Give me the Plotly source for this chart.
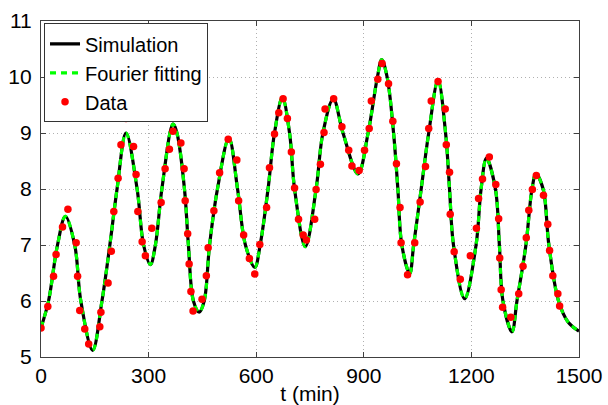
import plotly.graph_objects as go

# Simulation / Fourier fit curve (extrema and grid crossings)
sim_t = [0, 21, 46, 68, 94, 111, 144, 170, 192, 212, 237, 268, 286, 305, 319, 337,
         368, 379, 400, 411, 425, 441, 455, 470, 492, 524, 548, 570, 596, 611, 633,
         651, 673, 693, 707, 737, 767, 786, 815, 842, 884, 912, 938, 950, 965, 983,
         995, 1006, 1028, 1039, 1060, 1081, 1107, 1128, 1139, 1150, 1181, 1213, 1227,
         1242, 1267, 1278, 1288, 1313, 1327, 1352, 1369, 1380, 1400, 1416, 1443, 1470, 1500]
sim_y = [5.52, 6.0, 7.0, 7.51, 7.0, 6.0, 5.12, 6.0, 7.0, 8.0, 9.0, 8.0, 7.0, 6.65, 7.0, 8.0,
         9.16, 9.0, 8.0, 7.0, 6.0, 5.80, 6.0, 7.0, 8.0, 8.91, 8.0, 7.0, 6.60, 7.0, 8.0,
         9.0, 9.63, 9.0, 8.0, 6.97, 8.0, 9.0, 9.61, 9.0, 8.27, 9.0, 10.0, 10.31, 10.0, 9.0,
         8.0, 7.0, 6.49, 7.0, 8.0, 9.0, 9.94, 9.0, 8.0, 7.0, 6.04, 7.0, 8.0,
         8.55, 8.0, 7.0, 6.0, 5.45, 6.0, 7.0, 8.0, 8.27, 8.0, 7.0, 6.0, 5.62, 5.46]

fit_t = sim_t
fit_y = sim_y

data_t = [0, 19, 35, 42, 60, 75, 98, 102, 108, 122, 133, 164, 167, 187, 196, 203, 215, 223,
          237, 258, 265, 270, 282, 291, 309, 335, 346, 358, 368, 390, 399, 402, 409, 413,
          418, 424, 449, 461, 466, 482, 498, 522, 546, 551, 565, 581, 596, 610, 629, 637,
          651, 663, 675, 687, 698, 707, 718, 731, 740, 763, 767, 779, 789, 792, 816, 839,
          858, 867, 887, 902, 915, 921, 939, 951, 969, 981, 991, 1001, 1004, 1022, 1042,
          1057, 1072, 1081, 1088, 1107, 1127, 1130, 1139, 1141, 1152, 1169, 1197, 1214,
          1220, 1231, 1250, 1268, 1276, 1279, 1283, 1287, 1310, 1332, 1344, 1353, 1360,
          1370, 1381, 1401, 1413, 1418, 1427, 1441, 1446]
data_y = [5.52, 5.90, 6.44, 6.83, 7.32, 7.64, 7.04, 6.44, 5.83, 5.50, 5.23, 5.54, 5.80, 6.32,
          6.89, 7.60, 8.19, 8.79, 9.26, 8.76, 8.26, 7.60, 7.06, 6.81, 7.30, 7.76, 8.36, 8.71,
          9.03, 8.82, 8.36, 7.79, 7.20, 6.66, 6.17, 5.82, 6.03, 6.45, 6.95, 7.61, 8.29, 8.89,
          8.52, 7.79, 7.18, 6.76, 6.48, 7.01, 7.67, 8.38, 8.98, 9.36, 9.61, 9.26, 8.66, 8.02,
          7.46, 7.18, 7.09, 7.46, 7.99, 8.44, 9.01, 9.43, 9.61, 9.11, 8.69, 8.41, 8.33, 8.69,
          9.08, 9.57, 9.96, 10.24, 9.88, 9.21, 8.45, 7.67, 7.04, 6.47, 7.04, 7.77, 8.40, 9.08,
          9.57, 9.92, 9.43, 8.79, 8.30, 7.55, 6.88, 6.39, 6.81, 7.30, 7.83, 8.18, 8.57, 8.08,
          7.47, 6.77, 6.20, 5.89, 5.71, 6.13, 6.62, 7.13, 7.62, 7.99, 8.24, 7.89, 7.37, 6.90,
          6.45, 6.13, 5.91]

x_ticks = [0, 300, 600, 900, 1200, 1500]
y_ticks = [5, 6, 7, 8, 9, 10, 11]

FONT = "Liberation Sans, Arial, Helvetica, sans-serif"

fig = go.Figure()
fig.add_trace(go.Scatter(x=sim_t, y=sim_y, mode="lines", name="Simulation",
                         line=dict(color="black", width=3.2, shape="spline")))
fig.add_trace(go.Scatter(x=fit_t, y=fit_y, mode="lines", name="Fourier fitting",
                         line=dict(color="#00ff00", width=3.2, shape="spline", dash="6px,5px")))
fig.add_trace(go.Scatter(x=data_t, y=data_y, mode="markers", name="Data",
                         marker=dict(color="#ff0000", size=7.5, line=dict(width=0))))

axis_common = dict(showline=True, linecolor="#404040", linewidth=1.2, mirror="ticks",
                   ticks="inside", ticklen=5, tickcolor="#404040", tickwidth=1,
                   showgrid=True, gridcolor="#b0b0b0", griddash="1px,3px", gridwidth=1,
                   zeroline=False, automargin=False,
                   tickfont=dict(family=FONT, size=21, color="black"))

fig.update_layout(
    width=608, height=405,
    margin=dict(l=41, r=29, t=21, b=48),
    paper_bgcolor="white", plot_bgcolor="white",
    font=dict(family=FONT, size=21, color="black"),
    xaxis=dict(range=[0, 1500], tickvals=x_ticks, ticktext=[str(v) for v in x_ticks],
               title=dict(text="t (min)", font=dict(family=FONT, size=21), standoff=0),
               **axis_common),
    yaxis=dict(range=[5, 11], tickvals=y_ticks, ticktext=[str(v) for v in y_ticks],
               ticklabelstandoff=4, **axis_common),
    legend=dict(x=0.0056, y=0.993, xanchor="left", yanchor="top",
                bgcolor="white", bordercolor="#333333", borderwidth=1,
                font=dict(family=FONT, size=20), tracegroupgap=0, itemwidth=30),
    showlegend=True,
)

fig.write_html("out.html", config={"displayModeBar": False},
               post_script="document.body.style.margin='0px';document.body.style.overflow='hidden';")
